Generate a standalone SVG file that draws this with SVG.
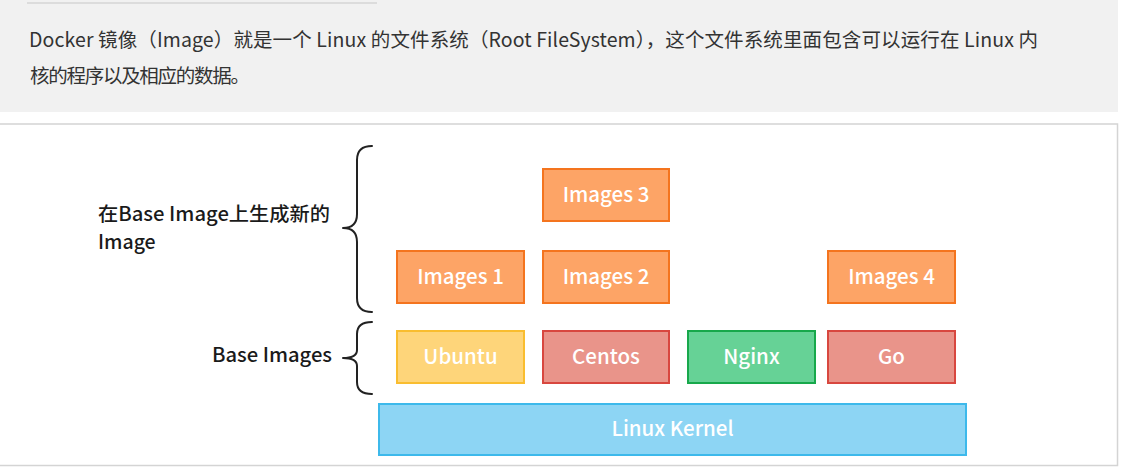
<svg xmlns="http://www.w3.org/2000/svg" width="1126" height="470" viewBox="0 0 1126 470">
<style>
.hdr{font-family:"Noto Sans CJK SC","Noto Sans",sans-serif;font-size:19.5px;fill:#333}
.lbl{font-family:"Noto Sans CJK SC","Noto Sans",sans-serif;font-size:19.5px;font-weight:500;fill:#1a1a1a}
.nt{font-family:"Noto Sans CJK SC","Noto Sans",sans-serif;font-size:20.5px;font-weight:500;fill:#fff;text-anchor:middle}
.img{fill:#FDA466;stroke:#F4741E;stroke-width:2}
.ubu{fill:#FED57A;stroke:#F9BD2F;stroke-width:2}
.red{fill:#E9948A;stroke:#D8473F;stroke-width:2}
.grn{fill:#66D296;stroke:#17A84B;stroke-width:2}
.ker{fill:#8DD5F4;stroke:#3DB9EB;stroke-width:2}
.brace{fill:none;stroke:#222;stroke-width:2;stroke-linecap:round;stroke-linejoin:round}
</style>
<rect x="0" y="0" width="1126" height="470" fill="#fff"/>
<rect x="0" y="0" width="1118" height="112" fill="#f1f1f1"/>
<line x1="27" y1="3" x2="377" y2="3" stroke="#dcdcdc" stroke-width="2"/>
<text class="hdr" x="29" y="47" textLength="1009" lengthAdjust="spacing">Docker 镜像（Image）就是一个 Linux 的文件系统（Root FileSystem），这个文件系统里面包含可以运行在 Linux 内</text>
<text class="hdr" x="30" y="83" textLength="220" lengthAdjust="spacing">核的程序以及相应的数据。</text>
<rect x="-1" y="124" width="1118.5" height="341.5" fill="#fff" stroke="#d4d4d4" stroke-width="1.5"/>

<g id="brace-labels">
<text class="lbl" x="98" y="221" textLength="232" lengthAdjust="spacingAndGlyphs">在Base Image上生成新的</text>
<text class="lbl" x="98" y="249">Image</text>
<text class="lbl" x="212" y="362" textLength="120" lengthAdjust="spacingAndGlyphs">Base Images</text>
</g>
<g id="connectors">
<path class="brace" d="M372,146 Q357,146 357,160 L357,214 Q357,228 343,228 Q357,228 357,242 L357,298 Q357,312 372,312"/>
<path class="brace" d="M372,322 Q357,322 357,334 L357,350 Q357,358 343,358 Q357,358 357,366 L357,382 Q357,394 372,394"/>
</g>

<g id="images3"><rect class="img" x="543" y="169" width="126" height="52"/><text class="nt" x="606" y="202">Images 3</text></g>
<g id="images1"><rect class="img" x="397" y="251" width="127" height="52"/><text class="nt" x="460.5" y="284">Images 1</text></g>
<g id="images2"><rect class="img" x="543" y="251" width="126" height="52"/><text class="nt" x="606" y="284">Images 2</text></g>
<g id="images4"><rect class="img" x="828" y="251" width="127" height="52"/><text class="nt" x="891.5" y="284">Images 4</text></g>
<g id="ubuntu"><rect class="ubu" x="397" y="331" width="127" height="52"/><text class="nt" x="460.5" y="364">Ubuntu</text></g>
<g id="centos"><rect class="red" x="543" y="331" width="126" height="52"/><text class="nt" x="606" y="364">Centos</text></g>
<g id="nginx"><rect class="grn" x="688" y="331" width="127" height="52"/><text class="nt" x="751.5" y="364">Nginx</text></g>
<g id="go"><rect class="red" x="828" y="331" width="127" height="52"/><text class="nt" x="891.5" y="364">Go</text></g>
<g id="kernel"><rect class="ker" x="379" y="404" width="587" height="51"/><text class="nt" x="672.5" y="436">Linux Kernel</text></g>
</svg>
